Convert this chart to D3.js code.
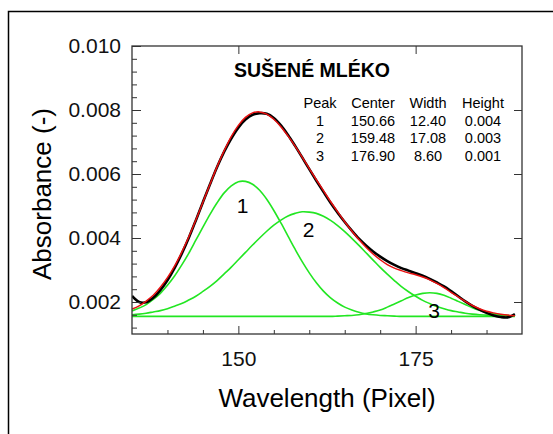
<!DOCTYPE html>
<html>
<head>
<meta charset="utf-8">
<script src="https://cdn.jsdelivr.net/npm/d3@7"></script>
<style>
  body { margin: 0; background: #fff; }
  svg { display: block; font-family: "Liberation Sans", Arial, sans-serif; }
</style>
</head>
<body>
<div id="vis"></div>
<script>
// frame and plot area
const FRAME_WIDTH = 553;
const FRAME_HEIGHT = 434;
const PLOT = {left: 132, right: 522, top: 46, bottom: 334};

// x positions of the samples (pixel units of the spectrometer)
const WAVELENGTH = d3.range(135, 190);

// measured spectrum (black)
const MEASURED = [
  0.00219, 0.00200, 0.00199, 0.00213, 0.00237, 0.00268, 0.00306, 0.00350, 0.00400, 0.00455,
  0.00512, 0.00568, 0.00622, 0.00670, 0.00711, 0.00745, 0.00770, 0.00785, 0.00790, 0.00788,
  0.00775, 0.00752, 0.00722, 0.00688, 0.00652, 0.00615, 0.00579, 0.00544, 0.00510, 0.00479,
  0.00450, 0.00423, 0.00398, 0.00377, 0.00358, 0.00342, 0.00328, 0.00316, 0.00306, 0.00298,
  0.00290, 0.00282, 0.00272, 0.00261, 0.00249, 0.00234, 0.00218, 0.00202, 0.00188, 0.00176,
  0.00166, 0.00158, 0.00153, 0.00152, 0.00162
];

// cumulative fit (red)
const FIT = [
  0.00178, 0.00188, 0.00203, 0.00221, 0.00246, 0.00276, 0.00312, 0.00355, 0.00403, 0.00456,
  0.00512, 0.00568, 0.00623, 0.00673, 0.00717, 0.00752, 0.00777, 0.00791, 0.00794, 0.00787,
  0.00771, 0.00748, 0.00719, 0.00687, 0.00653, 0.00617, 0.00582, 0.00548, 0.00514, 0.00482,
  0.00451, 0.00422, 0.00395, 0.00371, 0.00350, 0.00332, 0.00317, 0.00306, 0.00298, 0.00291,
  0.00285, 0.00278, 0.00269, 0.00258, 0.00245, 0.00230, 0.00216, 0.00202, 0.00189, 0.00179,
  0.00171, 0.00166, 0.00162, 0.00159, 0.00157
];

// fitted peaks (green)
const PEAK1 = [
  0.00172, 0.00181, 0.00192, 0.00208, 0.00227, 0.00252, 0.00281, 0.00315, 0.00352, 0.00393,
  0.00434, 0.00474, 0.00510, 0.00541, 0.00563, 0.00576, 0.00577, 0.00568, 0.00549, 0.00521,
  0.00486, 0.00447, 0.00406, 0.00365, 0.00326, 0.00291, 0.00260, 0.00234, 0.00213, 0.00197,
  0.00184, 0.00175, 0.00168, 0.00163, 0.00160, 0.00158, 0.00157, 0.00156, 0.00155, 0.00155,
  0.00155, 0.00155, 0.00155, 0.00155, 0.00155, 0.00155, 0.00155, 0.00155, 0.00155, 0.00155,
  0.00155, 0.00155, 0.00155, 0.00155, 0.00155
];
const PEAK2 = [
  0.00160, 0.00162, 0.00165, 0.00169, 0.00173, 0.00179, 0.00187, 0.00195, 0.00206, 0.00218,
  0.00233, 0.00249, 0.00267, 0.00288, 0.00309, 0.00332, 0.00355, 0.00378, 0.00400, 0.00421,
  0.00440, 0.00456, 0.00469, 0.00477, 0.00482, 0.00481, 0.00477, 0.00468, 0.00455, 0.00439,
  0.00420, 0.00399, 0.00377, 0.00354, 0.00331, 0.00308, 0.00287, 0.00267, 0.00248, 0.00232,
  0.00218, 0.00205, 0.00195, 0.00186, 0.00179, 0.00173, 0.00169, 0.00165, 0.00162, 0.00160,
  0.00159, 0.00158, 0.00157, 0.00156, 0.00156
];
const PEAK3 = [
  0.00155, 0.00155, 0.00155, 0.00155, 0.00155, 0.00155, 0.00155, 0.00155, 0.00155, 0.00155,
  0.00155, 0.00155, 0.00155, 0.00155, 0.00155, 0.00155, 0.00155, 0.00155, 0.00155, 0.00155,
  0.00155, 0.00155, 0.00155, 0.00155, 0.00155, 0.00155, 0.00155, 0.00155, 0.00155, 0.00156,
  0.00157, 0.00158, 0.00160, 0.00164, 0.00169, 0.00175, 0.00184, 0.00194, 0.00204, 0.00214,
  0.00222, 0.00227, 0.00229, 0.00227, 0.00221, 0.00212, 0.00202, 0.00192, 0.00182, 0.00174,
  0.00168, 0.00163, 0.00160, 0.00158, 0.00156
];

// fit results table
const TABLE_HEADER = ["Peak", "Center", "Width", "Height"];
const PEAK_IDS = ["1", "2", "3"];
const PEAK_CENTERS = ["150.66", "159.48", "176.90"];
const PEAK_WIDTHS = ["12.40", "17.08", "8.60"];
const PEAK_HEIGHTS = ["0.004", "0.003", "0.001"];

// axis ticks
const X_TICKS = [150, 175];
const X_MINOR = [140, 145, 155, 160, 165, 170, 180, 185];
const Y_TICKS = [0.002, 0.004, 0.006, 0.008, 0.010];
const Y_MINOR = [0.0012, 0.0016, 0.0024, 0.0028, 0.0032, 0.0036, 0.0044, 0.0048,
                 0.0052, 0.0056, 0.0064, 0.0068, 0.0072, 0.0076, 0.0084, 0.0088,
                 0.0092, 0.0096];

const GREEN = "#22e622";
const FONT = "'Liberation Sans', Arial, sans-serif";

const svg = d3.select("#vis")
  .append("svg")
    .attr("width", FRAME_WIDTH)
    .attr("height", FRAME_HEIGHT);

// outer border (open on right and bottom)
svg.append("path")
  .attr("d", "M8.5,434 V11.5 H553")
  .attr("fill", "none")
  .attr("stroke", "#000")
  .attr("stroke-width", 1.5);

const X = d3.scaleLinear().domain([135, 190]).range([PLOT.left, PLOT.right]);
const Y = d3.scaleLinear().domain([0.001, 0.010]).range([PLOT.bottom, PLOT.top]);

// clip for the curves
svg.append("clipPath").attr("id", "clip")
  .append("rect")
    .attr("x", PLOT.left).attr("y", PLOT.top)
    .attr("width", PLOT.right - PLOT.left)
    .attr("height", PLOT.bottom - PLOT.top);

const line = d3.line()
  .x((d, i) => X(WAVELENGTH[i]))
  .y(d => Y(d))
  .curve(d3.curveCatmullRom.alpha(0.5));

const curves = svg.append("g").attr("clip-path", "url(#clip)");

[PEAK3, PEAK2, PEAK1].forEach(p => {
  curves.append("path")
    .attr("d", line(p))
    .attr("fill", "none")
    .attr("stroke", GREEN)
    .attr("stroke-width", 1.6);
});

curves.append("path")
  .attr("d", line(MEASURED))
  .attr("fill", "none")
  .attr("stroke", "#000")
  .attr("stroke-width", 2.6);

curves.append("path")
  .attr("d", line(FIT))
  .attr("fill", "none")
  .attr("stroke", "#e81010")
  .attr("stroke-width", 1.5);

// axes, ticks point inward
const axisStyle = g => {
  g.select(".domain").remove();
  g.selectAll("line").attr("stroke", "#333").attr("stroke-width", 1);
  g.selectAll("text").attr("font-family", FONT).attr("font-size", "21px").attr("fill", "#111");
};

svg.append("g")
  .attr("transform", "translate(0," + PLOT.bottom + ")")
  .call(d3.axisBottom(X).tickValues(X_TICKS).tickFormat(d3.format("d"))
    .tickSizeInner(-8).tickSizeOuter(0).tickPadding(17))
  .call(axisStyle);

svg.append("g")
  .attr("transform", "translate(0," + PLOT.bottom + ")")
  .call(d3.axisBottom(X).tickValues(X_MINOR).tickFormat("").tickSizeInner(-4).tickSizeOuter(0))
  .call(axisStyle);

svg.append("g")
  .attr("transform", "translate(0," + PLOT.top + ")")
  .call(d3.axisTop(X).tickValues(X_TICKS).tickFormat("").tickSizeInner(-8).tickSizeOuter(0))
  .call(axisStyle);

svg.append("g")
  .attr("transform", "translate(" + PLOT.left + ",0)")
  .call(d3.axisLeft(Y).tickValues(Y_TICKS).tickFormat(d3.format(".3f"))
    .tickSizeInner(-9).tickSizeOuter(0).tickPadding(11))
  .call(axisStyle);

svg.append("g")
  .attr("transform", "translate(" + PLOT.left + ",0)")
  .call(d3.axisLeft(Y).tickValues(Y_MINOR).tickFormat("").tickSizeInner(-5).tickSizeOuter(0))
  .call(axisStyle);

svg.append("g")
  .attr("transform", "translate(" + PLOT.right + ",0)")
  .call(d3.axisRight(Y).tickValues(Y_TICKS.slice(0, 4)).tickFormat("").tickSizeInner(-8).tickSizeOuter(0))
  .call(axisStyle);

// plot frame
svg.append("rect")
  .attr("x", PLOT.left).attr("y", PLOT.top)
  .attr("width", PLOT.right - PLOT.left)
  .attr("height", PLOT.bottom - PLOT.top)
  .attr("fill", "none")
  .attr("stroke", "#333")
  .attr("stroke-width", 1.3);

// axis titles
svg.append("text")
  .attr("x", (PLOT.left + PLOT.right) / 2)
  .attr("y", 407)
  .attr("text-anchor", "middle")
  .attr("font-family", FONT)
  .attr("font-size", "26px")
  .text("Wavelength (Pixel)");

svg.append("text")
  .attr("transform", "translate(51,194) rotate(-90)")
  .attr("text-anchor", "middle")
  .attr("font-family", FONT)
  .attr("font-size", "26px")
  .text("Absorbance (-)");

// chart title
svg.append("text")
  .attr("x", 312)
  .attr("y", 77)
  .attr("text-anchor", "middle")
  .attr("font-family", FONT)
  .attr("font-weight", "bold")
  .attr("font-size", "19.5px")
  .text("SUŠENÉ MLÉKO");

// fit table
const COL_X = [320, 373, 428, 483];
const table = svg.append("g")
  .attr("font-family", FONT)
  .attr("font-size", "14.5px")
  .attr("text-anchor", "middle");

table.selectAll(".hdr")
  .data(TABLE_HEADER)
  .enter()
  .append("text")
    .attr("x", (d, i) => COL_X[i])
    .attr("y", 108)
    .text(d => d);

const rows = PEAK_IDS.map((id, i) => [id, PEAK_CENTERS[i], PEAK_WIDTHS[i], PEAK_HEIGHTS[i]]);
rows.forEach((row, r) => {
  table.selectAll(".row" + r)
    .data(row)
    .enter()
    .append("text")
      .attr("x", (d, i) => COL_X[i])
      .attr("y", 126 + r * 17.4)
      .text(d => d);
});

// peak number labels
const LABEL_POS = [[150.6, 0.00478], [159.9, 0.00403], [177.6, 0.00150]];
svg.selectAll(".plabel")
  .data(PEAK_IDS)
  .enter()
  .append("text")
    .attr("x", (d, i) => X(LABEL_POS[i][0]))
    .attr("y", (d, i) => Y(LABEL_POS[i][1]))
    .attr("text-anchor", "middle")
    .attr("font-family", FONT)
    .attr("font-size", "21px")
    .text(d => d);
</script>
</body>
</html>
